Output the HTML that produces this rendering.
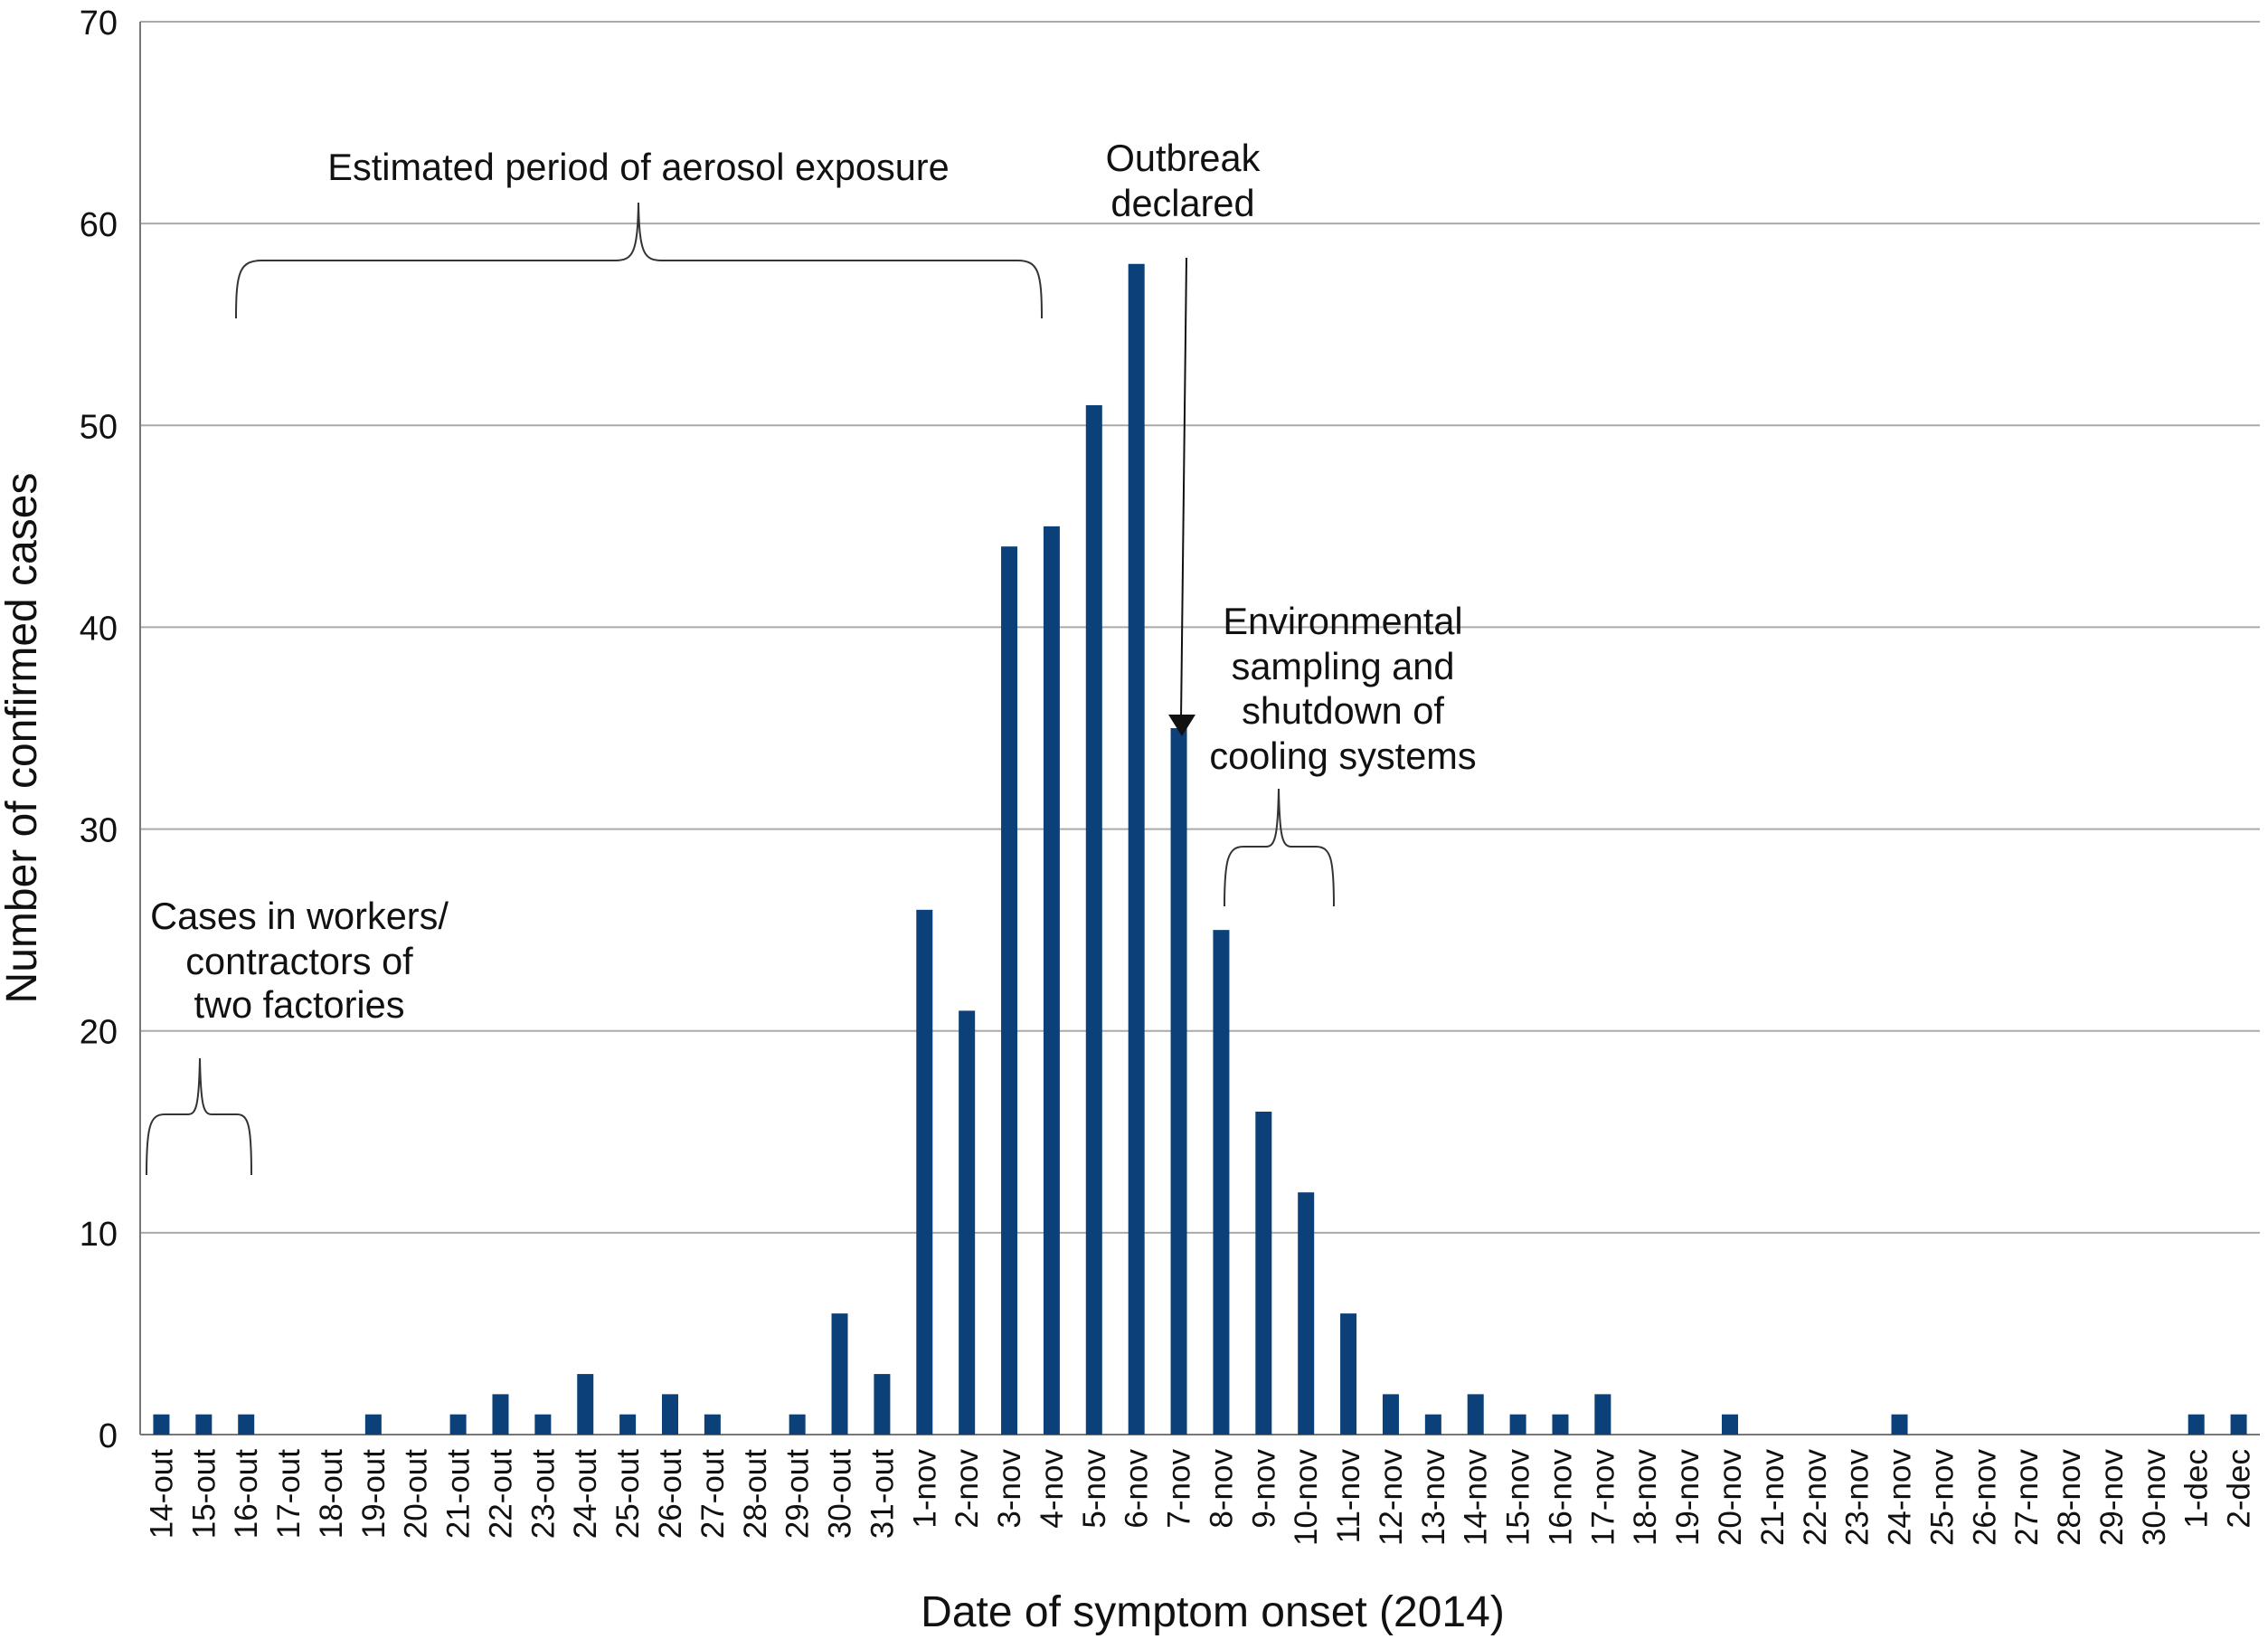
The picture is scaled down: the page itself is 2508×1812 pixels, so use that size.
<!DOCTYPE html>
<html><head><meta charset="utf-8"><style>body{margin:0;background:#fff}svg{display:block;font-family:"Liberation Sans",sans-serif}</style></head>
<body>
<svg id="chart" width="2508" height="1812" viewBox="0 0 2508 1812">
<g id="grid"></g><g id="bars"></g><g id="xt"></g><g id="yt"></g>
<text transform="translate(40,816) rotate(-90)" text-anchor="middle" font-size="48" fill="#111">Number of confirmed cases</text>
<text x="1341" y="1798" text-anchor="middle" font-size="48" fill="#111">Date of symptom onset (2014)</text>
<g font-size="41.5" fill="#111" text-anchor="middle">
<text x="706" y="199">Estimated period of aerosol exposure</text>
<path d="M261,352 C261,300 265,288 290,288 L680,288 C700,288 705,280 706,224 C707,280 712,288 732,288 L1125,288 C1148,288 1152,300 1152,352" fill="none" stroke="#333" stroke-width="2"/>
</g>
<g font-size="41.5" fill="#111" text-anchor="middle">
<text x="1308" y="189">Outbreak</text><text x="1308" y="239">declared</text>
<line x1="1312" y1="285" x2="1306" y2="796" stroke="#111" stroke-width="2"/>
<polygon points="1292,790 1322,790 1307,814" fill="#111"/>
</g>
<g font-size="41.5" fill="#111" text-anchor="middle">
<text x="1485" y="701">Environmental</text><text x="1485" y="751">sampling and</text><text x="1485" y="800">shutdown of</text><text x="1485" y="850">cooling systems</text>
<path d="M1354,1002 C1354,950 1358,936 1375,936 L1400,936 C1410,936 1413,925 1414,872 C1415,925 1418,936 1428,936 L1455,936 C1472,936 1475,950 1475,1002" fill="none" stroke="#333" stroke-width="2"/>
</g>
<g font-size="41.5" fill="#111" text-anchor="middle">
<text x="331" y="1027">Cases in workers/</text><text x="331" y="1077">contractors of</text><text x="331" y="1125">two factories</text>
<path d="M162,1299 C162,1245 166,1232 182,1232 L208,1232 C217,1232 220,1222 221,1170 C222,1222 225,1232 234,1232 L262,1232 C275,1232 278,1245 278,1299" fill="none" stroke="#333" stroke-width="2"/>
</g>
</svg>
<script>
const categories=["14-out","15-out","16-out","17-out","18-out","19-out","20-out","21-out","22-out","23-out","24-out","25-out","26-out","27-out","28-out","29-out","30-out","31-out","1-nov","2-nov","3-nov","4-nov","5-nov","6-nov","7-nov","8-nov","9-nov","10-nov","11-nov","12-nov","13-nov","14-nov","15-nov","16-nov","17-nov","18-nov","19-nov","20-nov","21-nov","22-nov","23-nov","24-nov","25-nov","26-nov","27-nov","28-nov","29-nov","30-nov","1-dec","2-dec"];
const cases=[1,1,1,0,0,1,0,1,2,1,3,1,2,1,0,1,6,3,26,21,44,45,51,58,35,25,16,12,6,2,1,2,1,1,2,0,0,1,0,0,0,1,0,0,0,0,0,0,1,1];
const yTicks=[0,10,20,30,40,50,60,70];
const NS="http://www.w3.org/2000/svg";
const L=155,R=2499,T=24,B=1586,YMAX=70;
const y=v=>B-(v/YMAX)*(B-T);
const bw=(R-L)/categories.length;
const x=i=>L+bw*(i+0.5);
function mk(t,a,p){const e=document.createElementNS(NS,t);for(const k in a)e.setAttribute(k,a[k]);p.appendChild(e);return e;}
const grid=document.getElementById('grid'),yt=document.getElementById('yt'),xt=document.getElementById('xt'),bars=document.getElementById('bars');
yTicks.forEach(v=>{
 const g=mk('line',{x1:L,x2:R,y1:y(v),y2:y(v),stroke:v===0?'#777':'#aaa','stroke-width':2},grid);
 
 
 const t=mk('text',{x:130,y:y(v)+14,'text-anchor':'end','font-size':38,fill:'#111'},yt);
 t.textContent=v;
 
 
});
const ax=mk('line',{x1:L,x2:L,y1:T,y2:B,stroke:'#777','stroke-width':2},grid);


categories.forEach((c,i)=>{
 const h=B-y(cases[i]);
 const r=mk('rect',{x:x(i)-9,y:y(cases[i]),width:18,height:h,fill:'#0b4079'},bars);
 
 
 const t=mk('text',{transform:`translate(${x(i)+12},1602) rotate(-90)`,'text-anchor':'end','font-size':35,fill:'#111'},xt);
 t.textContent=c;
 
 
});
</script>
</body></html>
